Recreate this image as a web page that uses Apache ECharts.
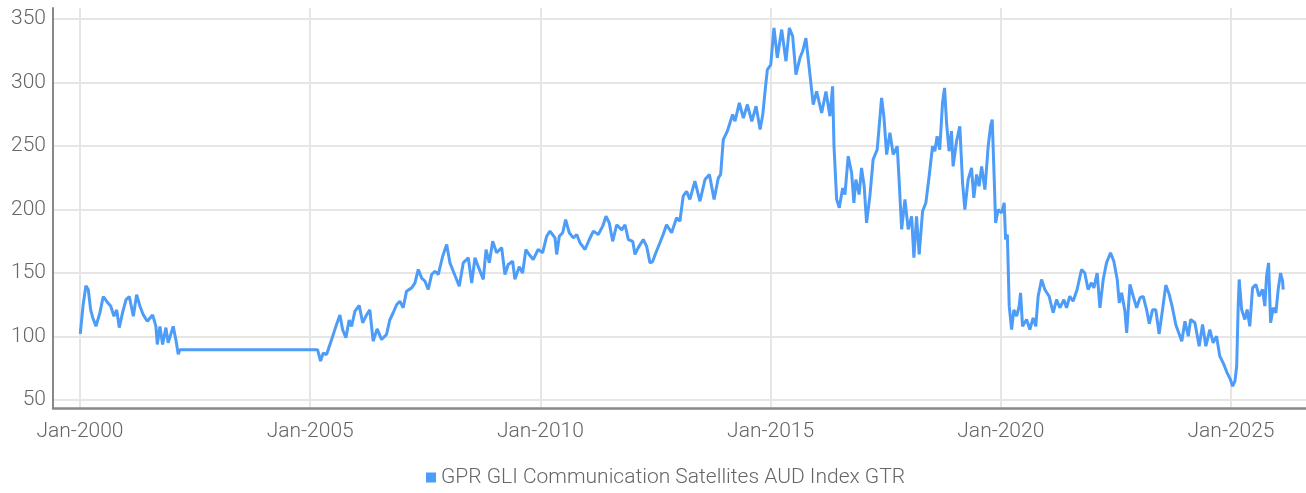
<!DOCTYPE html>
<html>
<head>
<meta charset="utf-8">
<script src="https://cdn.jsdelivr.net/npm/echarts@6/dist/echarts.min.js"></script>
<style>
html,body{margin:0;padding:0;background:#fff;}
#chart{width:1306px;height:493px;}
</style>
</head>
<body>
<div id="chart"></div>
<script>
const seriesName = 'GPR GLI Communication Satellites AUD Index GTR';

const dates = [
'2000-01-03','2000-01-15','2000-01-25','2000-02-17','2000-03-07','2000-03-26','2000-04-11','2000-05-07','2000-06-08','2000-07-04',
'2000-08-05','2000-09-01','2000-09-27','2000-10-19','2000-11-08','2000-12-05','2001-01-01','2001-01-27','2001-02-28','2001-03-26',
'2001-04-21','2001-05-18','2001-06-19','2001-07-31','2001-08-26','2001-09-06','2001-09-27','2001-10-18','2001-11-13','2001-12-01',
'2002-01-10','2002-01-31','2002-02-19','2002-03-04','2005-03-01',
'2005-03-24','2005-04-14','2005-05-11','2005-06-20','2005-07-24','2005-08-25','2005-09-15','2005-10-11','2005-11-06','2005-11-25',
'2005-12-22','2006-01-25','2006-02-21','2006-03-24','2006-04-19','2006-05-15','2006-06-16','2006-07-21','2006-08-29','2006-09-24',
'2006-10-21','2006-11-17','2006-12-13','2007-01-08','2007-02-04','2007-03-16','2007-04-11','2007-05-08','2007-06-04','2007-06-30',
'2007-07-26','2007-08-22','2007-09-17','2007-10-13','2007-11-17','2007-12-19','2008-01-14','2008-02-15','2008-03-28','2008-04-29',
'2008-06-08','2008-07-05','2008-07-31','2008-08-26','2008-10-05','2008-10-27','2008-11-22','2008-12-19','2009-01-19','2009-02-28',
'2009-03-26','2009-04-21','2009-05-26','2009-06-13','2009-07-17','2009-08-13','2009-09-08','2009-10-04','2009-11-05','2009-12-14',
'2010-01-19','2010-02-20','2010-03-18','2010-04-27','2010-05-10','2010-05-31','2010-06-27','2010-07-20','2010-08-18','2010-09-19',
'2010-10-16','2010-11-11','2010-12-21','2011-01-24','2011-02-25','2011-04-05','2011-05-10','2011-06-05','2011-07-01','2011-07-28',
'2011-08-29','2011-10-08','2011-11-03','2011-11-29','2012-01-03','2012-01-21','2012-02-16','2012-03-27','2012-04-23','2012-05-19',
'2012-06-09','2012-07-05','2012-08-06','2012-09-01','2012-09-28','2012-11-07','2012-12-17','2013-01-12','2013-02-07','2013-03-06',
'2013-04-01','2013-05-11','2013-06-20','2013-07-30','2013-09-03','2013-10-10','2013-11-13','2013-12-01','2013-12-22','2014-01-23',
'2014-03-06','2014-03-25','2014-04-28','2014-05-30','2014-07-01','2014-08-05','2014-09-08','2014-10-10','2014-10-31','2014-11-18',
'2014-12-06','2015-01-02','2015-01-28','2015-02-23','2015-03-30','2015-05-03','2015-05-30','2015-06-25','2015-07-21','2015-08-22',
'2015-09-12','2015-10-08','2015-11-09','2015-12-05','2016-01-01','2016-02-10','2016-03-15','2016-04-16','2016-05-07','2016-05-18',
'2016-06-08','2016-06-29','2016-07-26','2016-08-13','2016-09-08','2016-10-05','2016-10-23','2016-11-08','2016-12-04','2016-12-23',
'2017-01-13','2017-02-01','2017-02-27','2017-03-25','2017-04-26','2017-05-31','2017-06-18','2017-07-10','2017-08-05','2017-08-31',
'2017-10-02','2017-10-18','2017-11-06','2017-12-02','2017-12-28','2018-01-24','2018-02-11','2018-03-04','2018-03-25','2018-04-21',
'2018-05-17','2018-06-12','2018-07-09','2018-07-27','2018-08-14','2018-09-04','2018-09-26','2018-10-12','2018-10-28','2018-11-17',
'2018-12-06','2018-12-19','2019-01-15','2019-02-10','2019-03-04','2019-03-22','2019-04-17','2019-05-14','2019-06-01','2019-06-23',
'2019-07-13','2019-08-02','2019-08-28','2019-09-23','2019-10-12','2019-10-25','2019-11-10','2019-11-21','2019-12-11','2020-01-07',
'2020-01-28','2020-02-08','2020-02-22','2020-03-08','2020-03-27','2020-04-14','2020-05-06','2020-05-26','2020-06-06','2020-06-22',
'2020-07-24','2020-08-19','2020-09-14','2020-10-05','2020-10-24','2020-11-20','2020-12-16','2021-01-19','2021-02-20','2021-03-19',
'2021-04-14','2021-05-16','2021-06-06','2021-07-02','2021-07-28','2021-08-29','2021-10-03','2021-10-29','2021-11-24','2021-12-21',
'2022-01-09','2022-02-04','2022-02-26','2022-03-24','2022-04-19','2022-05-21','2022-06-16','2022-07-13','2022-07-29','2022-08-17',
'2022-09-12','2022-09-26','2022-10-22','2022-11-17','2022-12-14','2023-01-09','2023-02-04','2023-03-03','2023-03-24','2023-04-19',
'2023-05-15','2023-06-10','2023-07-07','2023-08-02','2023-08-28','2023-09-24','2023-10-21','2023-11-16','2023-12-07','2024-01-01',
'2024-01-27','2024-02-15','2024-03-20','2024-04-23','2024-05-20','2024-06-15','2024-07-17','2024-08-12','2024-09-08','2024-10-04',
'2024-11-05','2024-12-01','2024-12-28','2025-01-14','2025-02-01','2025-02-15','2025-02-27','2025-03-07','2025-03-26','2025-04-21',
'2025-05-09','2025-05-30','2025-06-21','2025-07-17','2025-08-12','2025-09-08','2025-09-26','2025-10-10','2025-10-26','2025-11-11',
'2025-12-02','2025-12-23','2026-01-10','2026-01-29','2026-02-14','2026-02-19'
];

const values = [
102,101,124,140,137,121,115,108,119,131.5,
127,124,116,121,107,119,129,131.5,116,133,
124,117,112,117,108,93.7,108,93.7,107,95,
108,97.6,86,89.5,89.5,
80.6,87,85.8,97.6,108,117,105.5,99,113,108,
120,124.4,110.8,117,121,96.3,106,97.6,101.6,113,
118.7,125,127.8,122.6,135.7,138.3,142,152.8,146,143.5,
137,148.8,151.4,148.8,163,172.4,158,150,139.6,158,
162,142,162,155,145,168.5,158,175,166,170,
148.8,156.7,159.3,145,155,150,168.5,164.6,160.6,168.5,
166,179,183,177.7,164.6,179,181.7,192,181.7,177.7,
180.3,173.8,168.5,176.4,183,180.3,186.9,194.7,189.5,175,
188,184,188,176.4,175,164.6,170,176.4,171,158,
159,166,173.8,180.3,188,181.7,193.5,190.8,210.5,214.4,
208,222.3,206.5,223.6,227.6,208,225,227.6,255,261.7,
274.8,269.5,284,272,282.7,269.5,281.3,263,274.8,293,
310,314,343,319.5,341.7,316.8,343,336.4,306.3,319.5,
324.6,335,306.3,282.7,293,276,293,273.5,297,250,
208,201.3,217,211.8,242,229,205.3,223.6,211.8,232.8,
218.3,189.5,210.5,239.4,247.2,287.9,273.5,243.3,260.4,243.3,
249.8,221,184.3,208,184.3,194.7,162,194.7,164.6,198.7,
205.3,226.2,249.8,245.9,257.7,247.2,284,295.8,268.3,245.9,
261.7,234,253.8,265.6,221,200,223.6,232.8,209.2,227.6,
218.3,234,215.7,249.8,265.6,270.9,223.6,189.5,200,197.4,
205.3,176.4,180.3,123.9,105.5,121,116,124,134.4,108,
113.4,105.5,114.7,108,131.7,144.9,137,131.7,118.7,129,
122.6,129,122.6,131.7,127.8,137,152.8,150,137,142.3,
138.3,150,122.6,144.9,158,166,159.3,144.9,126.5,134.4,
120,102.9,141,131.7,122.6,130.4,131.7,121,110,121,
121,102,121,140.5,133.5,122.5,109,102,96.3,112,
100.2,113.4,110.8,92.4,109.4,92.4,105.5,95,100.2,84.5,
78,71.4,66,60.9,64.8,76.6,123.9,144.9,121.3,113.4,
121.3,108,138.3,141,131.7,137,123.9,147.4,158,110.8,
122.6,118.7,137,150,143.5,137
];

const yTicks = [50, 100, 150, 200, 250, 300, 350];
const xTickYears = [2000, 2005, 2010, 2015, 2020, 2025];

function toYear(s) {
  const p = s.split('-').map(Number);
  const t = Date.UTC(p[0], p[1] - 1, p[2]);
  const a = Date.UTC(p[0], 0, 1), b = Date.UTC(p[0] + 1, 0, 1);
  return p[0] + (t - a) / (b - a);
}
const points = dates.map((d, i) => [toYear(d), values[i]]);

const FONT = 'Roboto';
const chart = echarts.init(document.getElementById('chart'), null, {renderer: 'canvas'});
chart.setOption({
  animation: false,
  backgroundColor: '#ffffff',
  grid: {left: 53, right: 0, top: 8, bottom: 85, containLabel: false},
  legend: {
    data: [seriesName],
    bottom: 5,
    left: 426,
    icon: 'rect',
    itemWidth: 10,
    itemHeight: 10,
    itemGap: 10,
    textStyle: {fontFamily: FONT, fontSize: 21, color: '#666', fontWeight: 300},
    padding: 0
  },
  xAxis: {
    type: 'value',
    min: 1999.414,
    max: 2026.629,
    axisLine: {show: true, lineStyle: {color: '#888', width: 2.5}},
    axisTick: {show: false, customValues: xTickYears},
    axisLabel: {
      customValues: xTickYears,
      formatter: v => 'Jan-' + Math.round(v),
      fontFamily: FONT, fontSize: 21, color: '#666', fontWeight: 300, margin: 13
    },
    splitLine: {show: true, lineStyle: {color: '#e6e6e6', width: 2}}
  },
  yAxis: {
    type: 'value',
    min: 43.7,
    max: 358.7,
    axisLine: {show: true, lineStyle: {color: '#888', width: 2}},
    axisTick: {show: false, customValues: yTicks},
    axisLabel: {
      customValues: yTicks,
      fontFamily: FONT, fontSize: 21, color: '#666', fontWeight: 300, margin: 7
    },
    splitLine: {show: true, lineStyle: {color: '#e6e6e6', width: 2}}
  },
  series: [{
    name: seriesName,
    type: 'line',
    data: points,
    showSymbol: false,
    symbol: 'none',
    lineStyle: {color: '#4d9cf8', width: 3},
    itemStyle: {color: '#4d9cf8'}
  }]
});
</script>
</body>
</html>
